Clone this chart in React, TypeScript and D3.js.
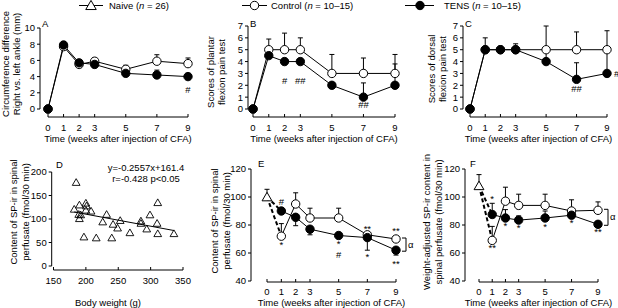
import React from 'react';
import * as d3 from 'd3';

const FONT = '"Liberation Sans", Arial, Helvetica, sans-serif';
const FS = 9.5;

// ---------- data ----------
const weeks = [0, 1, 2, 3, 5, 7, 9];
const postWeeks = [1, 2, 3, 5, 7, 9];

// Panel A: circumference difference (mm)
const aControl = [0, 7.7, 5.5, 5.9, 4.9, 5.9, 5.6];
const aControlErr = [0, 0.6, 0.4, 0.4, 0.5, 0.8, 0.7];
const aTens = [0, 7.9, 5.7, 5.5, 4.4, 4.2, 4.0];
const aTensErr = [0, 0.4, 0.4, 0.3, 0.3, 0.6, 0.4];

// Panel B: plantar flexion pain score
const bControl = [0, 5, 5, 5, 3, 3, 3];
const bControlErr = [0, 0.9, 1.4, 1.0, 1.6, 1.3, 1.6];
const bTens = [0, 4.5, 4, 4, 2, 1, 2];
const bTensErr = [0, 0, 0, 0, 0, 1.2, 1.8];

// Panel C: dorsal flexion pain score
const cControl = [0, 5, 5, 5, 5, 5, 5];
const cControlErr = [0, 0, 0, 0, 2.0, 1.5, 1.6];
const cTens = [0, 5, 5, 5, 4, 2.5, 3];
const cTensErr = [0, 1.0, 0, 0.5, 1.0, 1.4, 1.8];

// Panel D: body weight vs SP-ir content
const dWeight = [185, 182, 190, 189, 190, 192, 200, 201, 200, 208, 197, 216, 226, 232, 240, 242, 249, 253, 268, 285, 285, 294, 299, 310, 311, 311, 336];
const dSP = [178, 121, 130, 110, 101, 109, 134, 128, 119, 117, 62, 60, 94, 110, 60, 89, 81, 97, 71, 96, 91, 79, 109, 91, 135, 69, 69];
const dSlope = -0.2557;
const dIntercept = 161.4;

// Panel E: SP-ir content
const eNaive = 100;
const eNaiveErr = 5.5;
const eControl = [72, 95, 85, 85, 73, 70];
const eControlErrUp = [9, 8, 7, 7, 2, 2];
const eControlErrDown = [0, 0, 0, 0, 0, 0];
const eTens = [90, 85.5, 77, 72.5, 71, 62];
const eTensErrUp = [0, 0, 0, 0, 0, 0];
const eTensErrDown = [0, 6, 4, 2, 9, 3.5];

// Panel F: weight-adjusted SP-ir content
const fNaive = 108;
const fNaiveErr = 8;
const fControl = [69, 97, 94, 94, 90, 90.5];
const fControlErrUp = [10, 10, 8, 8, 8, 6];
const fControlErrDown = [0, 0, 0, 0, 0, 0];
const fTens = [87.5, 85, 83.5, 85, 87, 80.5];
const fTensErrUp = [8, 6, 3, 5, 0, 0];
const fTensErrDown = [0, 0, 0, 0, 0, 0];

const tickWeeks = [0, 1, 2, 3, 5, 7, 9];
const xTitle = 'Time (weeks after injection of CFA)';

// ---------- helpers ----------
type Ann = { s: 'c' | 't'; i: number; side: 'above' | 'below' | 'right'; lines: string[]; gap: number };

const R = 4.2;

function YAxis({ x, scale, ticks }: any) {
  const [r0, r1] = scale.range();
  return (
    <g>
      <line x1={x} x2={x} y1={r0} y2={r1} stroke="#000" strokeWidth={1} />
      {ticks.map((t: number) => (
        <g key={t}>
          <line x1={x - 3} x2={x} y1={scale(t)} y2={scale(t)} stroke="#000" />
          <text x={x - 5} y={scale(t) + 3.4} textAnchor="end">{t}</text>
        </g>
      ))}
    </g>
  );
}

function XAxis({ y, scale, ticks, labelY }: any) {
  const a = scale(ticks[0]);
  const b = scale(ticks[ticks.length - 1]);
  return (
    <g>
      <line x1={a} x2={b} y1={y} y2={y} stroke="#000" />
      {ticks.map((t: number) => (
        <g key={t}>
          <line x1={scale(t)} x2={scale(t)} y1={y} y2={y - 3} stroke="#000" />
          <text x={scale(t)} y={labelY} textAnchor="middle">{t}</text>
        </g>
      ))}
    </g>
  );
}

function YTitle({ x1, x2, cy, lines }: any) {
  return (
    <g>
      {lines.map((l: string, k: number) => (
        <text key={k} transform={`translate(${k === 0 ? x1 : x2},${cy}) rotate(-90)`} textAnchor="middle" dominantBaseline="central">{l}</text>
      ))}
    </g>
  );
}

function ErrBar({ x, y0, y1 }: any) {
  if (Math.abs(y0 - y1) < 0.5) return null;
  return (
    <g>
      <line x1={x} x2={x} y1={y0} y2={y1} stroke="#000" />
      <line x1={x - 2.5} x2={x + 2.5} y1={y1} y2={y1} stroke="#000" />
    </g>
  );
}

function Annotations({ anns, xs, ys, wk, ctrl, tens, cUp, cDown, tUp, tDown }: any) {
  const out: any[] = [];
  anns.forEach((a: Ann, n: number) => {
    const v = a.s === 'c' ? ctrl[a.i] : tens[a.i];
    const up = (a.s === 'c' ? cUp : tUp)[a.i] || 0;
    const dn = (a.s === 'c' ? cDown : tDown)[a.i] || 0;
    const px = xs(wk[a.i]);
    if (a.side === 'right') {
      out.push(<text key={n} x={px + 7} y={ys(v) + 3.4} textAnchor="start">{a.lines[0]}</text>);
      return;
    }
    if (a.side === 'below') {
      const start = Math.max(ys(v - dn), ys(v) + R);
      a.lines.forEach((l, k) => {
        const base = start + a.gap + 6.8 + k * 10.8;
        out.push(<text key={`${n}-${k}`} x={px} y={base} textAnchor="middle">{l}</text>);
      });
    } else {
      const start = Math.min(ys(v + up), ys(v) - R);
      a.lines.forEach((l, k) => {
        const isStar = l.startsWith('*');
        const base = start - a.gap + (isStar ? 3.6 : 0) - k * 10.8;
        out.push(<text key={`${n}-${k}`} x={px} y={base} textAnchor="middle">{l}</text>);
      });
    }
  });
  return <g>{out}</g>;
}

const tri = (size: number) => d3.symbol().type(d3.symbolTriangle).size(size)() as string;

function TopPanel({ cfg }: any) {
  const xs = d3.scaleLinear().domain([0, 9]).range(cfg.xr);
  const ys = d3.scaleLinear().domain(cfg.yd).range(cfg.yr);
  const line = d3.line<number>().x((_, i) => xs(weeks[i])).y((d) => ys(d));
  const series = [
    { v: cfg.c, e: cfg.ce, fill: '#fff' },
    { v: cfg.t, e: cfg.te, fill: '#000' },
  ];
  return (
    <g>
      <YAxis x={cfg.ax} scale={ys} ticks={cfg.yt} />
      <XAxis y={117} scale={xs} ticks={tickWeeks} labelY={130.5} />
      <text x={(cfg.xr[0] + cfg.xr[1]) / 2} y={141.5} textAnchor="middle">{xTitle}</text>
      <YTitle x1={cfg.tx1} x2={cfg.tx2} cy={cfg.tcy} lines={cfg.title} />
      <text x={cfg.lx} y={27}>{cfg.letter}</text>
      {series.map((s, k) => (
        <path key={'l' + k} d={line(s.v) as string} fill="none" stroke="#000" />
      ))}
      {series.map((s, k) => (
        <g key={'e' + k}>
          {s.v.map((v: number, i: number) => (
            <ErrBar key={i} x={xs(weeks[i])} y0={ys(v)} y1={ys(v + s.e[i])} />
          ))}
        </g>
      ))}
      {series.map((s, k) => (
        <g key={'m' + k}>
          {s.v.map((v: number, i: number) => (
            <circle key={i} cx={xs(weeks[i])} cy={ys(v)} r={R} fill={s.fill} stroke="#000" />
          ))}
        </g>
      ))}
      <Annotations anns={cfg.anns} xs={xs} ys={ys} wk={weeks} ctrl={cfg.c} tens={cfg.t}
        cUp={cfg.ce} cDown={[]} tUp={cfg.te} tDown={[]} />
    </g>
  );
}

function BottomPanel({ cfg }: any) {
  const xs = d3.scaleLinear().domain([0, 9]).range(cfg.xr);
  const ys = d3.scaleLinear().domain([40, 120]).range([281, 169]);
  const line = d3.line<number>().x((_, i) => xs(postWeeks[i])).y((d) => ys(d));
  const series = [
    { v: cfg.c, up: cfg.cUp, dn: cfg.cDown, fill: '#fff' },
    { v: cfg.t, up: cfg.tUp, dn: cfg.tDown, fill: '#000' },
  ];
  return (
    <g>
      <YAxis x={cfg.ax} scale={ys} ticks={[40, 60, 80, 100, 120]} />
      <XAxis y={282} scale={xs} ticks={tickWeeks} labelY={294.5} />
      <text x={(cfg.xr[0] + cfg.xr[1]) / 2} y={305.5} textAnchor="middle">{xTitle}</text>
      <YTitle x1={cfg.tx1} x2={cfg.tx2} cy={cfg.tcy} lines={cfg.title} />
      <text x={cfg.lx} y={167}>{cfg.letter}</text>
      {series.map((s, k) => (
        <path key={'l' + k} d={line(s.v) as string} fill="none" stroke="#000" />
      ))}
      {series.map((s, k) => (
        <line key={'d' + k} x1={xs(0)} y1={ys(cfg.n)} x2={xs(postWeeks[0])} y2={ys(s.v[0])}
          stroke="#000" strokeWidth={2} strokeDasharray="4,2.5" />
      ))}
      <ErrBar x={xs(0)} y0={ys(cfg.n)} y1={ys(cfg.n + cfg.ne)} />
      {series.map((s, k) => (
        <g key={'e' + k}>
          {s.v.map((v: number, i: number) => (
            <g key={i}>
              <ErrBar x={xs(postWeeks[i])} y0={ys(v)} y1={ys(v + s.up[i])} />
              <ErrBar x={xs(postWeeks[i])} y0={ys(v)} y1={ys(v - s.dn[i])} />
            </g>
          ))}
        </g>
      ))}
      <path d={tri(42)} transform={`translate(${xs(0)},${ys(cfg.n) + 1})`} fill="#fff" stroke="#000" />
      {series.map((s, k) => (
        <g key={'m' + k}>
          {s.v.map((v: number, i: number) => (
            <circle key={i} cx={xs(postWeeks[i])} cy={ys(v)} r={R} fill={s.fill} stroke="#000" />
          ))}
        </g>
      ))}
      {/* alpha bracket between week-9 values */}
      <g>
        <path d={`M${xs(9) + 6},${ys(cfg.c[5]) - 1}h4v${ys(cfg.t[5]) - ys(cfg.c[5]) + 2}h-4`} fill="none" stroke="#000" />
        <text x={xs(9) + 12} y={(ys(cfg.c[5]) + ys(cfg.t[5])) / 2 + 3}>α</text>
      </g>
      <Annotations anns={cfg.anns} xs={xs} ys={ys} wk={postWeeks} ctrl={cfg.c} tens={cfg.t}
        cUp={cfg.cUp} cDown={cfg.cDown} tUp={cfg.tUp} tDown={cfg.tDown} />
    </g>
  );
}

function ScatterPanel() {
  const xs = d3.scaleLinear().domain([150, 350]).range([53.5, 183]);
  const ys = d3.scaleLinear().domain([0, 200]).range([266, 172]);
  const [mn, mx] = d3.extent(dWeight) as [number, number];
  return (
    <g>
      <YAxis x={51.7} scale={ys} ticks={[0, 50, 100, 150, 200]} />
      <XAxis y={270} scale={xs} ticks={[150, 200, 250, 300, 350]} labelY={283.5} />
      <text x={108} y={305.5} textAnchor="middle">Body weight (g)</text>
      <YTitle x1={13} x2={25} cy={212} lines={['Content of SP-ir in spinal', 'perfusate (fmol/30 min)']} />
      <text x={56} y={168}>D</text>
      <text x={146} y={171} textAnchor="middle">y=-0.2557x+161.4</text>
      <text x={146} y={182} textAnchor="middle">r=-0.428 p&lt;0.05</text>
      <line x1={xs(mn)} y1={ys(dSlope * mn + dIntercept)} x2={xs(mx)} y2={ys(dSlope * mx + dIntercept)} stroke="#000" />
      {dWeight.map((w, i) => (
        <path key={i} d={tri(26)} transform={`translate(${xs(w)},${ys(dSP[i]) + 0.8})`} fill="none" stroke="#000" strokeWidth={0.9} />
      ))}
    </g>
  );
}

const panelA = {
  xr: [48, 188], yd: [0, 10], yr: [109, 28], yt: [0, 2, 4, 6, 8, 10], ax: 40,
  c: aControl, ce: aControlErr, t: aTens, te: aTensErr, letter: 'A', lx: 42,
  title: ['Circumference difference', 'Right vs. left ankle (mm)'], tx1: 5.5, tx2: 16.5, tcy: 64,
  anns: [{ s: 't', i: 6, side: 'below', lines: ['#'], gap: 5 }] as Ann[],
};
const panelB = {
  xr: [253, 395], yd: [0, 7], yr: [109, 26], yt: [0, 1, 2, 3, 4, 5, 6, 7], ax: 248,
  c: bControl, ce: bControlErr, t: bTens, te: bTensErr, letter: 'B', lx: 250,
  title: ['Scores of plantar', 'flexion pain test'], tx1: 210, tx2: 221, tcy: 72,
  anns: [
    { s: 't', i: 2, side: 'below', lines: ['#'], gap: 11 },
    { s: 't', i: 3, side: 'below', lines: ['##'], gap: 11 },
    { s: 't', i: 5, side: 'below', lines: ['##'], gap: 0 },
  ] as Ann[],
};
const panelC = {
  xr: [470, 607], yd: [0, 7], yr: [109, 26], yt: [0, 1, 2, 3, 4, 5, 6, 7], ax: 463,
  c: cControl, ce: cControlErr, t: cTens, te: cTensErr, letter: 'C', lx: 465,
  title: ['Scores of dorsal', 'flexion pain test'], tx1: 431, tx2: 442, tcy: 69,
  anns: [
    { s: 't', i: 5, side: 'below', lines: ['##'], gap: 1.5 },
    { s: 't', i: 6, side: 'right', lines: ['#'], gap: 0 },
  ] as Ann[],
};
const panelE = {
  xr: [267, 396], ax: 251, n: eNaive, ne: eNaiveErr,
  c: eControl, cUp: eControlErrUp, cDown: eControlErrDown, t: eTens, tUp: eTensErrUp, tDown: eTensErrDown,
  letter: 'E', lx: 258, title: ['Content of SP-ir in spinal', 'perfusate (fmol/30 min)'], tx1: 214, tx2: 226, tcy: 221,
  anns: [
    { s: 't', i: 0, side: 'above', lines: ['#'], gap: 1.5 },
    { s: 'c', i: 0, side: 'below', lines: ['*'], gap: 0.5 },
    { s: 't', i: 3, side: 'below', lines: ['*', '#'], gap: 0.3 },
    { s: 'c', i: 4, side: 'above', lines: ['**'], gap: 2 },
    { s: 't', i: 4, side: 'below', lines: ['*'], gap: 2.5 },
    { s: 'c', i: 5, side: 'above', lines: ['**'], gap: 4 },
    { s: 't', i: 5, side: 'below', lines: ['**'], gap: 5 },
  ] as Ann[],
};
const panelF = {
  xr: [479, 598], ax: 465, n: fNaive, ne: fNaiveErr,
  c: fControl, cUp: fControlErrUp, cDown: fControlErrDown, t: fTens, tUp: fTensErrUp, tDown: fTensErrDown,
  letter: 'F', lx: 470, title: ['Weight-adjusted SP-ir content in', 'spinal perfusate (fmol/30 min)'], tx1: 426, tx2: 438, tcy: 222,
  anns: [
    { s: 't', i: 0, side: 'above', lines: ['*'], gap: 5 },
    { s: 'c', i: 0, side: 'below', lines: ['**'], gap: 0 },
    { s: 't', i: 1, side: 'below', lines: ['*'], gap: 0 },
    { s: 't', i: 2, side: 'below', lines: ['*'], gap: 0 },
    { s: 't', i: 3, side: 'below', lines: ['*'], gap: 0.5 },
    { s: 't', i: 4, side: 'below', lines: ['*'], gap: 0 },
    { s: 't', i: 5, side: 'below', lines: ['**'], gap: 0 },
  ] as Ann[],
};

function Legend() {
  return (
    <g>
      <line x1={79} x2={103} y1={5.5} y2={5.5} stroke="#000" />
      <path d={tri(48)} transform={`translate(91,6.5)`} fill="#fff" stroke="#000" />
      <text x={109} y={9}>Naive (<tspan fontStyle="italic">n</tspan> = 26)</text>
      <line x1={242} x2={267} y1={5.5} y2={5.5} stroke="#000" />
      <circle cx={254.5} cy={5.5} r={R} fill="#fff" stroke="#000" />
      <text x={271} y={9}>Control (<tspan fontStyle="italic">n</tspan> = 10–15)</text>
      <line x1={405} x2={434} y1={5.5} y2={5.5} stroke="#000" />
      <circle cx={420} cy={5.5} r={R} fill="#000" stroke="#000" />
      <text x={444} y={9}>TENS (<tspan fontStyle="italic">n</tspan> = 10–15)</text>
    </g>
  );
}

export default function App() {
  return (
    <svg width={618} height={308} viewBox="0 0 618 308"
      style={{ position: 'absolute', left: 0, top: 0, background: '#fff' }}
      fontFamily={FONT} fontSize={FS}>
      <rect width={618} height={308} fill="#fff" />
      <Legend />
      <TopPanel cfg={panelA} />
      <TopPanel cfg={panelB} />
      <TopPanel cfg={panelC} />
      <ScatterPanel />
      <BottomPanel cfg={panelE} />
      <BottomPanel cfg={panelF} />
    </svg>
  );
}
